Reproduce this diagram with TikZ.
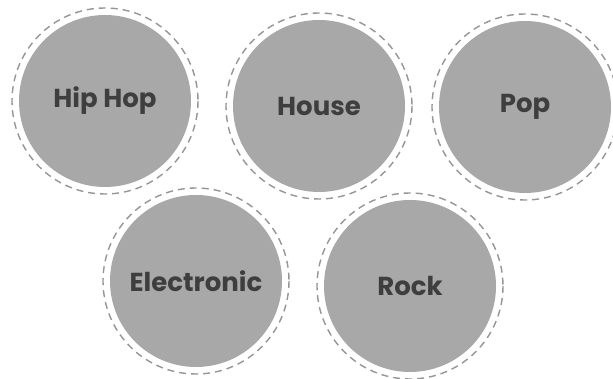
\documentclass[tikz,border=0pt]{standalone}
\usepackage{fontspec}
\newfontfamily\genrefont{Poppins}
\definecolor{discfill}{RGB}{168,168,168}
\definecolor{ringgray}{RGB}{150,150,150}
\definecolor{labelgray}{RGB}{62,62,62}
\begin{document}
\begin{tikzpicture}[x=1pt,y=-1pt,
  genre/.style={circle,fill=discfill,draw=none,minimum size=172pt,inner sep=0pt,
    text=labelgray,font=\genrefont\bfseries\fontsize{26}{30}\selectfont},
  ring/.style={draw=ringgray,line width=1.4pt,dash pattern=on 7pt off 5pt}]
\path[use as bounding box] (0,0) rectangle (613,379);
\path[fill=white] (0,0) rectangle (613,379);
% top row
\node[genre] (hiphop) at (105,101) {Hip Hop};
\node[genre] (house) at (319,106) {House};
\node[genre] (pop) at (525,107) {Pop};
% bottom row
\node[genre] (electronic) at (196,281) {Electronic};
\node[genre] (rock) at (410,286) {Rock};
% dashed rings
\foreach \n in {hiphop,house,pop,electronic,rock}
  \draw[ring] (\n.center) circle (93);
\end{tikzpicture}
\end{document}
